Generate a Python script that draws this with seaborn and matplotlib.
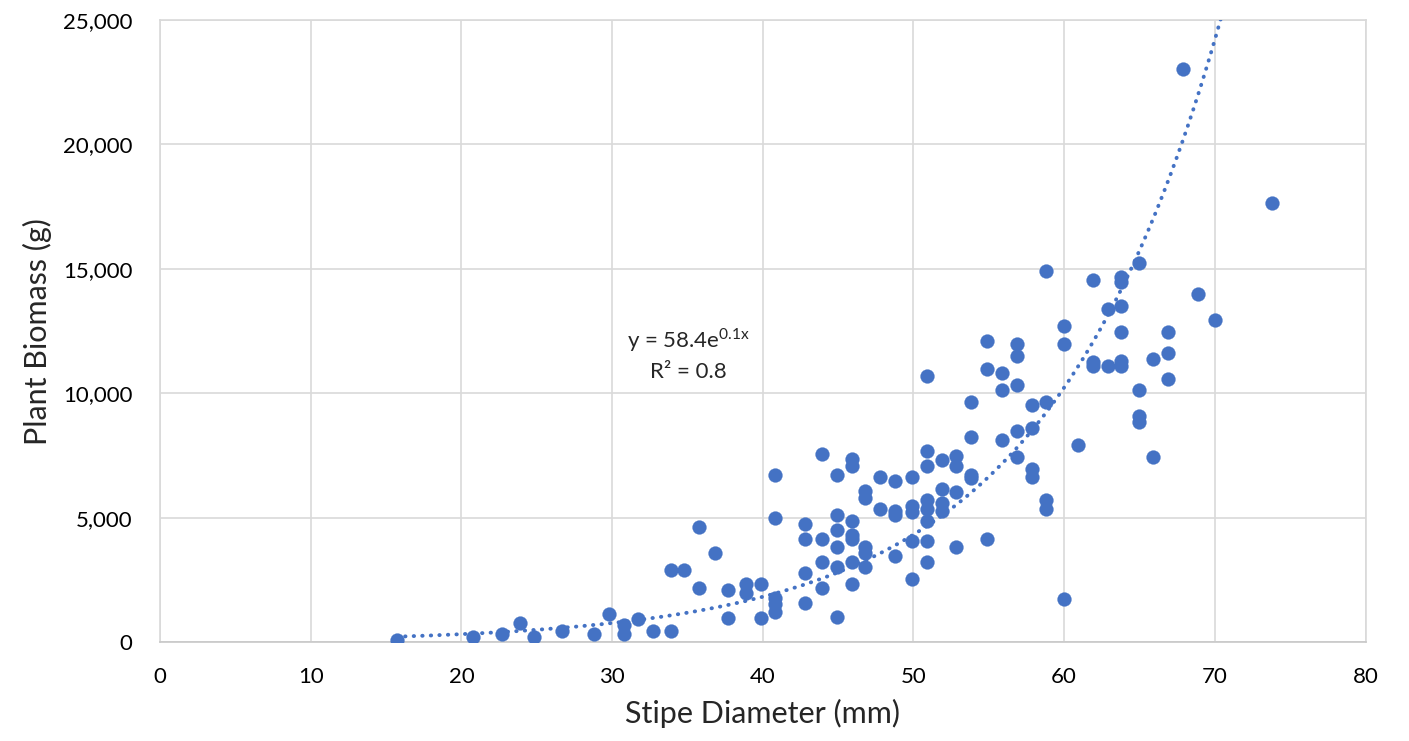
import numpy as np
import pandas as pd
import matplotlib
matplotlib.use("Agg")
import matplotlib.pyplot as plt
import seaborn as sns

# ── Datos ────────────────────────────────────────────────────
stipe_mm = [
    15.7, 20.8, 22.7, 23.9, 24.8, 26.7, 28.8, 29.8, 30.8, 30.8,
    31.7, 32.7, 33.9, 33.9, 34.8, 35.8, 35.8, 36.8, 37.7, 37.7,
    38.9, 38.9, 39.9, 39.9, 40.8, 40.8, 40.8, 40.8, 40.8,
    42.8, 42.8, 42.8, 42.8, 43.9, 43.9, 43.9, 43.9,
    44.9, 44.9, 44.9, 44.9, 44.9, 44.9,
    45.9, 45.9, 45.9, 45.9, 45.9, 45.9, 45.9,
    46.8, 46.8, 46.8, 46.8, 46.8, 47.8, 47.8,
    48.8, 48.8, 48.8, 48.8, 49.9, 49.9, 49.9, 49.9, 49.9,
    50.9, 50.9, 50.9, 50.9, 50.9, 50.9, 50.9, 50.9,
    51.9, 51.9, 51.9, 51.9, 52.8, 52.8, 52.8, 52.8,
    53.8, 53.8, 53.8, 53.8, 54.9, 54.9, 54.9, 55.9, 55.9, 55.9,
    56.9, 56.9, 56.9, 56.9, 56.9, 57.9, 57.9, 57.9, 57.9,
    58.8, 58.8, 58.8, 58.8, 60.0, 60.0, 60.0, 60.9,
    61.9, 61.9, 61.9, 62.9, 62.9,
    63.8, 63.8, 63.8, 63.8, 63.8, 63.8,
    65.0, 65.0, 65.0, 65.0, 65.9, 65.9, 66.9, 66.9, 66.9,
    67.9, 68.9, 70.0, 73.8,
]
biomass_g = [
    100, 220, 330, 790, 220, 450, 330, 1150, 700, 330,
    930, 450, 2890, 450, 2890, 4640, 2190, 3600, 2090, 990,
    2330, 1970, 2330, 990, 6740, 4990, 1790, 1530, 1230,
    4760, 4170, 2770, 1590, 7570, 4170, 3240, 2190,
    6740, 5110, 4520, 3830, 3020, 1030,
    7350, 7090, 4870, 4330, 4170, 3240, 2330,
    6070, 5800, 3830, 3600, 3020, 6630, 5340,
    6500, 5270, 5110, 3460, 6630, 5470, 5240, 4070, 2540,
    10710, 7680, 7090, 5700, 5340, 4870, 4070, 3240,
    7310, 6150, 5600, 5270, 7470, 7100, 6040, 3830,
    9650, 8260, 6740, 6600, 12110, 10960, 4170, 10810, 10120, 8140,
    11990, 11520, 10350, 8480, 7450, 9550, 8610, 6980, 6630,
    14920, 9650, 5700, 5340, 12690, 11980, 1730, 7920,
    14560, 11280, 11090, 13400, 11080,
    14690, 14460, 13500, 12450, 11310, 11080,
    15250, 10120, 9100, 8850, 11400, 7430, 12450, 11630, 10590,
    23030, 13980, 12930, 17650,
]

# Línea de tendencia exponencial (y = a·e^(b·x))
trend_a = 58.4
trend_b = 0.0861
trend_x_min = 15.7
trend_x_max = 70.6

x_ticks = [0, 10, 20, 30, 40, 50, 60, 70, 80]
y_ticks = [0, 5000, 10000, 15000, 20000, 25000]

COLOR = "#4472C4"
GRID = "#D9D9D9"

# ── Configuración general ────────────────────────────────────
sns.set_theme(style="white")
plt.rcParams["font.family"] = ["Lato", "DejaVu Sans"]

df = pd.DataFrame({"stipe": stipe_mm, "biomass": biomass_g})
tx = np.linspace(trend_x_min, trend_x_max, 300)
trend = pd.DataFrame({"stipe": tx, "biomass": trend_a * np.exp(trend_b * tx)})

fig = plt.figure(figsize=(14.09, 7.41), dpi=100)
ax = fig.add_axes([160 / 1409, 1 - 642.3 / 741, 1205.5 / 1409, 622.3 / 741])

sns.scatterplot(data=df, x="stipe", y="biomass", ax=ax, color=COLOR,
                s=100, edgecolor=COLOR, linewidth=0.2, zorder=3)
sns.lineplot(data=trend, x="stipe", y="biomass", ax=ax, color=COLOR,
             linewidth=2.8, zorder=4)
ax.lines[-1].set_linestyle((0, (0.1, 2.1)))
ax.lines[-1].set_dash_capstyle("round")

ax.set_xlim(0, 80)
ax.set_ylim(0, 25000)
ax.set_xticks(x_ticks)
ax.set_yticks(y_ticks)
ax.set_yticklabels([f"{v:,}" for v in y_ticks])
ax.tick_params(axis="both", length=0, labelsize=16, colors="#000000")
ax.tick_params(axis="y", pad=20)
ax.tick_params(axis="x", pad=18)

ax.grid(True, color=GRID, linewidth=1.2, zorder=0)
ax.set_axisbelow(True)
for s in ax.spines.values():
    s.set_color(GRID)
    s.set_linewidth(1.2)
ax.spines["bottom"].set_color("#C8C8C8")

ax.set_xlabel("Stipe Diameter (mm)", fontsize=22, labelpad=8)
ax.set_ylabel("Plant Biomass (g)", fontsize=22, labelpad=8)

ax.text(35.05, 12140, r"y = 58.4e$^{\mathregular{0.1x}}$", ha="center", va="center",
        fontsize=16, zorder=5)
ax.text(35.05, 10860, "R² = 0.8", ha="center", va="center", fontsize=16, zorder=5)

fig.savefig("out.png", dpi=100)
